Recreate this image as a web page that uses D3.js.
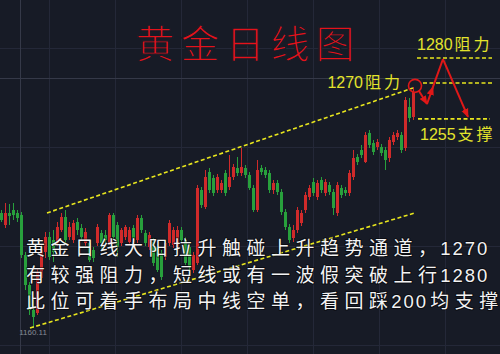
<!DOCTYPE html>
<html><head><meta charset="utf-8">
<script src="https://cdn.jsdelivr.net/npm/d3@7/dist/d3.min.js"></script>
<style>html,body{margin:0;padding:0;background:#171b26;overflow:hidden}</style>
</head><body>
<svg id="c" width="500" height="354"></svg>
<script>
// ---- data (daily gold candles) ----
const opens = [1213.2,1207.6,1213.2,1214.6,1213.2,1212.3,1193.8,1179.9,1168.5,1167.0,
1183.1,1195.2,1202.1,1200.7,1199.3,1205.3,1211.3,1202.1,1200.7,1209.0,
1206.3,1199.3,1199.3,1196.1,1199.3,1203.9,1203.0,1199.3,1212.3,1207.6,
1199.3,1202.1,1199.8,1206.3,1200.7,1210.9,1203.9,1197.5,1199.8,1197.5,
1194.7,1192.8,1199.3,1198.4,1197.5,1205.3,1200.7,1197.5,1186.8,1190.1,
1223.8,1216.0,1232.2,1229.4,1223.8,1223.8,1231.7,1225.2,1229.8,1234.0,
1231.7,1234.0,1230.8,1224.8,1214.6,1234.0,1233.1,1231.7,1223.8,1227.1,
1222.9,1213.7,1206.7,1201.6,1205.3,1208.6,1214.6,1220.6,1227.5,1220.6,
1228.5,1222.4,1226.1,1222.9,1213.2,1224.8,1223.8,1222.4,1229.8,1239.1,
1242.3,1236.8,1250.2,1245.6,1243.7,1243.7,1242.3,1238.6,1246.0,1248.3,
1249.3,1243.3,1262.2,1257.6];
const highs = [1214.6,1217.8,1217.4,1217.8,1214.6,1213.7,1195.2,1181.3,1173.0,1187.8,
1198.4,1204.4,1204.4,1205.3,1209.0,1213.2,1214.6,1209.0,1210.0,1210.9,
1208.1,1206.3,1200.7,1197.5,1208.1,1205.3,1205.3,1213.2,1213.2,1209.0,
1206.3,1207.6,1206.7,1207.6,1212.3,1212.3,1205.3,1204.4,1201.6,1198.9,
1196.1,1200.7,1210.0,1206.7,1207.2,1206.7,1202.1,1198.9,1195.2,1226.1,
1225.2,1233.1,1234.0,1230.8,1231.2,1228.5,1233.1,1240.0,1235.9,1239.1,
1243.3,1235.4,1232.2,1226.1,1237.7,1235.4,1234.5,1233.1,1228.5,1228.5,
1224.3,1215.1,1208.1,1207.6,1216.0,1214.6,1222.9,1226.1,1229.4,1228.5,
1229.8,1228.9,1227.5,1224.3,1227.5,1226.1,1225.2,1233.1,1242.3,1240.5,
1244.6,1250.7,1251.6,1247.0,1247.4,1245.1,1243.7,1248.3,1250.7,1251.6,
1250.7,1266.8,1266.4,1271.5];
const lows = [1209.0,1206.3,1207.6,1210.0,1209.0,1192.4,1177.6,1166.0,1160.11,1166.0,
1181.3,1192.4,1191.5,1190.5,1197.9,1204.4,1199.3,1200.7,1199.3,1203.0,
1200.7,1197.9,1190.5,1190.5,1197.9,1196.1,1198.4,1198.4,1200.7,1192.8,
1197.9,1200.7,1198.4,1199.8,1199.3,1203.9,1197.9,1196.1,1188.7,1185.9,
1182.2,1191.5,1197.9,1197.0,1196.1,1199.3,1189.1,1186.8,1185.4,1189.1,
1215.5,1215.1,1222.4,1221.1,1222.4,1222.4,1221.1,1223.8,1228.5,1230.3,
1230.3,1229.4,1223.8,1213.7,1213.7,1230.8,1229.4,1222.4,1222.0,1221.5,
1212.3,1205.3,1199.3,1199.8,1203.9,1207.2,1213.2,1219.2,1221.1,1219.2,
1222.4,1221.1,1221.5,1212.3,1211.8,1220.1,1221.1,1221.1,1228.5,1235.4,
1238.6,1236.3,1243.3,1240.0,1242.3,1239.6,1233.1,1236.8,1244.6,1247.0,
1240.9,1241.9,1255.3,1256.2];
const closes = [1210.0,1213.2,1211.8,1212.3,1210.9,1193.8,1179.9,1168.3,1165.1,1185.9,
1196.1,1202.1,1192.8,1195.2,1206.7,1211.3,1200.7,1206.7,1208.6,1205.3,
1202.1,1204.4,1191.5,1192.4,1206.7,1199.3,1200.7,1212.3,1202.1,1197.5,
1205.3,1206.7,1205.3,1201.6,1210.9,1205.3,1199.3,1203.0,1190.1,1186.8,
1183.6,1199.3,1208.6,1205.3,1205.3,1200.7,1190.1,1188.2,1193.8,1224.8,
1216.9,1229.8,1223.8,1222.4,1229.8,1227.1,1222.4,1229.8,1234.5,1231.7,
1234.5,1230.8,1224.8,1214.6,1233.1,1232.2,1230.8,1223.8,1227.1,1222.9,
1213.7,1206.7,1200.7,1205.3,1214.6,1213.2,1221.5,1224.8,1222.4,1227.1,
1223.8,1227.5,1222.9,1215.5,1226.1,1221.5,1222.4,1231.7,1238.6,1236.8,
1240.0,1249.3,1244.6,1241.4,1246.0,1240.9,1237.7,1247.0,1249.3,1250.2,
1242.3,1265.5,1257.1,1269.2];

const lowLabel = "1160.11";
const gridPrices = [1289.5, 1243.7, 1197.5, 1151.7];
const gridIdx = [12, 28.5, 45, 61.5, 78, 94.5, 111];
const crossIdx = 4.875, crossPrice = 1275.2;

// trend channel (index, price)
const channelUpper = [[11.5, 1213.2], [103, 1271.0]];
const channelLower = [[7.25, 1160.0], [103.5, 1213.2]];

// annotation levels (drawn lines) & labels
const levelLines = [
  [[104, 1284.9], [122.75, 1284.9]],
  [[105.5, 1273.3], [122.75, 1273.3]],
  [[104.25, 1256.7], [122.25, 1256.7]]
];
const levelLabels = [
  {num: "1280", txt: "阻力", at: [104, 1288.6], anchor: "start"},
  {num: "1270", txt: "阻力", at: [100.5, 1271.0], anchor: "end"},
  {num: "1255", txt: "支撑", at: [104.75, 1247.0], anchor: "start"}
];
const circleAt = [103.5, 1272.0];
const arrowDown1 = [[104.5, 1269.6], [106.5, 1263.6]];
const arrowUp = [[106.5, 1263.6], [108, 1271.5], [110.5, 1284.4]];
const arrowDown2 = [[110.5, 1284.4], [116.75, 1257.6]];

const title = "黄金日线图";
const textLines = [
  "黄金日线大阳拉升触碰上升趋势通道，1270",
  "有较强阻力，短线或有一波假突破上行1280",
  "此位可着手布局中线空单，看回踩200均支撑"
];

// ---- drawing ----
const svg = d3.select("#c");
const W = 500, H = 354, BG = "#171b26";
svg.append("rect").attr("width", W).attr("height", H).attr("fill", BG);

const xS = d3.scaleLinear().domain([0, 103]).range([1, 413]);
const yS = d3.scaleLinear().domain([1160, 1271]).range([328, 88]);
const line = d3.line().x(d => xS(d[0])).y(d => yS(d[1]));

// grid
const g = svg.append("g").attr("shape-rendering", "crispEdges");
g.selectAll(".gh").data(gridPrices).join("line")
  .attr("x1", 0).attr("x2", W).attr("y1", d => yS(d)).attr("y2", d => yS(d))
  .attr("stroke", "#242838").attr("stroke-width", 1);
g.selectAll(".gv").data(gridIdx).join("line")
  .attr("y1", 0).attr("y2", H).attr("x1", d => xS(d)).attr("x2", d => xS(d))
  .attr("stroke", "#242838").attr("stroke-width", 1);
g.append("line").attr("x1", 0).attr("x2", W).attr("y1", yS(crossPrice)).attr("y2", yS(crossPrice))
  .attr("stroke", "#353948");
g.append("line").attr("y1", 0).attr("y2", H).attr("x1", xS(crossIdx)).attr("x2", xS(crossIdx))
  .attr("stroke", "#353948");

// candles
const data = opens.map((o, i) => ({i, o, h: highs[i], l: lows[i], c: closes[i]}));
const RED = "#d02a2a", GREEN = "#28a03c";
const cg = svg.append("g").attr("shape-rendering", "crispEdges");
const cs = cg.selectAll("g").data(data).join("g");
cs.append("rect")
  .attr("x", d => Math.round(xS(d.i)))
  .attr("width", 1)
  .attr("y", d => yS(d.h))
  .attr("height", d => Math.max(1, yS(d.l) - yS(d.h)))
  .attr("fill", d => d.c >= d.o ? RED : GREEN);
cs.append("rect")
  .attr("x", d => Math.round(xS(d.i)) - 1)
  .attr("width", 3)
  .attr("y", d => yS(Math.max(d.o, d.c)))
  .attr("height", d => Math.max(1, Math.abs(yS(d.o) - yS(d.c))))
  .attr("fill", d => d.c >= d.o ? RED : GREEN);

// low label
const lowIdx = d3.minIndex(lows);
svg.append("text").attr("x", xS(lowIdx)).attr("y", yS(lows[lowIdx]) + 7)
  .attr("text-anchor", "middle").attr("font-family", "Liberation Sans, Arial, sans-serif")
  .attr("font-size", 8).attr("fill", "#868a96").text(lowLabel);

// channel lines
const YEL = "#e8e61e";
[channelUpper, channelLower].forEach(seg => {
  svg.append("path").attr("d", line(seg)).attr("fill", "none")
    .attr("stroke", YEL).attr("stroke-width", 1.6).attr("stroke-dasharray", "4,2.5");
});
levelLines.forEach(seg => {
  svg.append("path").attr("d", line(seg)).attr("fill", "none")
    .attr("stroke", YEL).attr("stroke-width", 1.6).attr("stroke-dasharray", "4,2.5");
});

// level labels
levelLabels.forEach(L => {
  const t = svg.append("text").attr("x", xS(L.at[0])).attr("y", yS(L.at[1]))
    .attr("text-anchor", L.anchor).attr("fill", "#e4e42c").attr("font-size", 16);
  t.append("tspan").attr("font-family", "Liberation Sans, Arial, sans-serif").text(L.num);
  t.append("tspan").attr("font-family", "Noto Sans CJK SC, sans-serif").attr("dx", 2)
    .attr("letter-spacing", 3).text(L.txt);
});

// red annotations
const ARED = "#e01818";
const defs = svg.append("defs");
defs.append("marker").attr("id", "ah").attr("viewBox", "0 0 10 8")
  .attr("refX", 9).attr("refY", 4).attr("markerWidth", 9).attr("markerHeight", 8)
  .attr("markerUnits", "userSpaceOnUse").attr("orient", "auto")
  .append("path").attr("d", "M0,0 L10,4 L0,8 Z").attr("fill", ARED);
svg.append("circle").attr("cx", xS(circleAt[0])).attr("cy", yS(circleAt[1])).attr("r", 6.5)
  .attr("fill", "none").attr("stroke", ARED).attr("stroke-width", 1.6);
[arrowDown1, arrowDown2].forEach(seg => {
  svg.append("path").attr("d", line(seg)).attr("fill", "none").attr("stroke", ARED)
    .attr("stroke-width", 2).attr("marker-end", "url(#ah)");
});
svg.append("path").attr("d", line(arrowUp)).attr("fill", "none").attr("stroke", ARED)
  .attr("stroke-width", 2).attr("marker-mid", "url(#ah)");

// title (strokes thinned with a background-coloured outline)
const tt = svg.append("text").attr("y", 58).attr("fill", "#e5121b")
  .attr("stroke", BG).attr("stroke-width", 1.3)
  .attr("font-family", "Noto Sans CJK SC, sans-serif").attr("font-size", 39)
  .attr("text-anchor", "middle");
Array.from(title).forEach((ch, k) => {
  tt.append("tspan").attr("x", 155 + 45 * k).text(ch);
});

// body text
const CJK_W = 24.5, ASC_W = 12.25, X0 = 23.5;
textLines.forEach((s, li) => {
  const t = svg.append("text").attr("y", 255 + li * 26.7).attr("font-size", 19)
    .attr("fill", "#f3f3f3").attr("stroke", "#000").attr("stroke-opacity", 0.5)
    .attr("stroke-width", 2).attr("paint-order", "stroke").attr("stroke-linejoin", "round");
  let x = X0;
  Array.from(s).forEach(ch => {
    const ascii = ch.charCodeAt(0) < 128;
    t.append("tspan").attr("x", ascii ? x + 0.3 : x + 2.5)
      .attr("font-family", ascii ? "Liberation Sans, Arial, sans-serif" : "Noto Sans CJK SC, sans-serif")
      .attr("font-size", ascii ? 18.5 : 19)
      .text(ch);
    x += ascii ? ASC_W : CJK_W;
  });
});
</script>
</body></html>
